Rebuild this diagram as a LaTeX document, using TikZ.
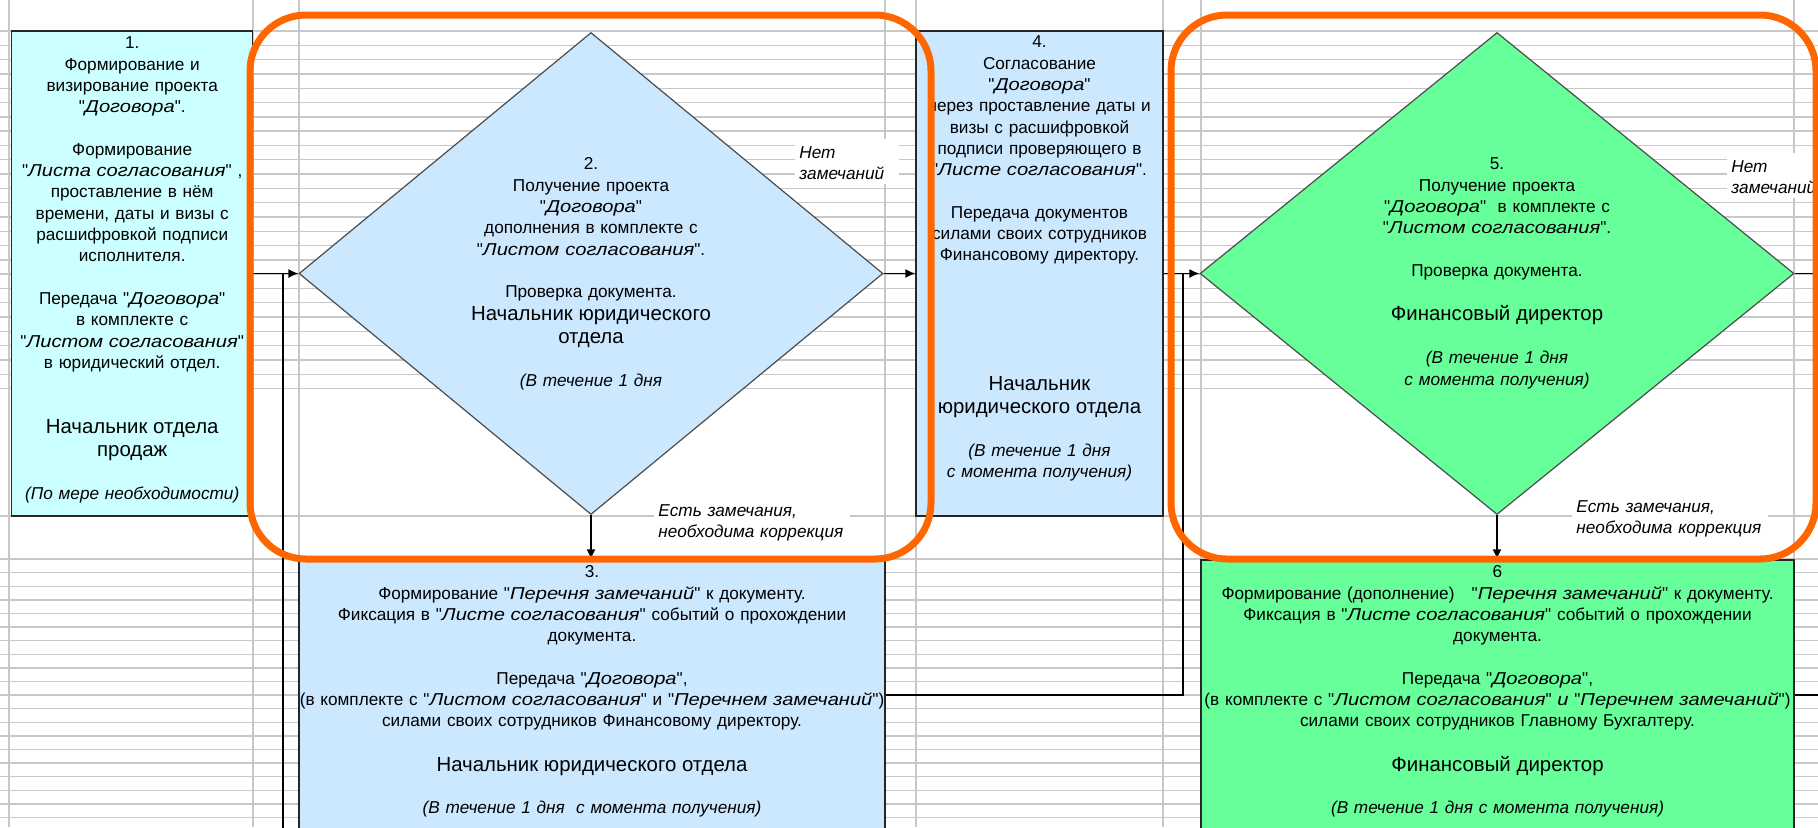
\documentclass[tikz,border=0pt]{standalone}
\usepackage{fontspec}
\setmainfont{Liberation Sans}[Ligatures=TeXOff]
\newfontfamily\stretchfam{Liberation Sans}[FakeStretch=1.17,Ligatures=TeXOff]
\usetikzlibrary{shapes.geometric,arrows.meta}
\setlength\parindent{0pt}
\definecolor{cyanbox}{HTML}{CCFFFF}
\definecolor{bluebox}{HTML}{CCE8FF}
\definecolor{greenbox}{HTML}{66FF99}
\definecolor{orng}{HTML}{FF6600}
\definecolor{gridc}{HTML}{C8C8C8}
\newcommand{\txtn}{\fontsize{8.6}{10.65}\selectfont}
\newcommand{\txtb}{\fontsize{10.2}{11.5}\selectfont}
\newcommand{\qmk}{\char34\relax}
\newcommand{\myq}[1]{\qmk{\stretchfam\itshape #1}\qmk}
\tikzset{
  procbox/.style={draw=black!85, line width=0.7pt, inner sep=0pt, rectangle},
  decbox/.style={diamond, draw=black!70, line width=0.6pt, inner sep=0pt},
  txt/.style={anchor=north, inner sep=0pt, text width=#1, font=\txtn},
  conn/.style={line width=0.7pt, black},
  arr/.style={conn, -{Latex[length=5pt,width=4.5pt]}},
  lbl/.style={fill=white, inner sep=2pt, anchor=north west, text width=#1, font=\txtn\itshape},
  frame/.style={draw=orng, line width=3.5pt, rounded corners=28pt},
  gridl/.style={draw=gridc, line width=0.7pt},
}
\begin{document}
\begin{tikzpicture}[x=0.5pt,y=-0.5pt]
\clip (0,0) rectangle (1818,827);
\fill[white] (0,0) rectangle (1818,827);
% spreadsheet grid
\foreach \k in {0,...,25}{\pgfmathsetmacro\yy{31+14.3*\k}\draw[gridl] (0,\yy) -- (1818,\yy);}
\draw[gridl] (0,516) -- (1818,516);
\foreach \k in {0,...,20}{\pgfmathsetmacro\yy{559+13.6*\k}\draw[gridl] (0,\yy) -- (1818,\yy);}
\foreach \xx in {9,253,299,885,916,1163,1201,1794}{\draw[gridl] (\xx,0) -- (\xx,827);}

% shapes
\node[procbox, fill=cyanbox, minimum width=120.5pt, minimum height=242.5pt] (b1) at (132.2,273.5) {};
\node[decbox, fill=bluebox, minimum width=292pt, minimum height=241pt] (d2) at (591,273.5) {};
\node[procbox, fill=bluebox, minimum width=123.5pt, minimum height=242.5pt] (b4) at (1039.5,273.5) {};
\node[decbox, fill=greenbox, minimum width=297pt, minimum height=241pt] (d5) at (1497,273.5) {};
\node[procbox, fill=bluebox, minimum width=293pt, minimum height=170pt] (b3) at (592,730) {};
\node[procbox, fill=greenbox, minimum width=296.5pt, minimum height=170pt] (b6) at (1497.5,730) {};

% texts
\node[txt=230pt] (t1) at (132.2,33.5) {\centering\strut 1.\\
Формирование и\\
визирование проекта\\
\myq{Договора}.\\[10.65pt]
Формирование\\
\myq{Листа согласования} ,\\
проставление в нём\\
времени, даты и визы с\\
расшифровкой подписи\\
исполнителя.\\[10.65pt]
Передача \myq{Договора}\\
в комплекте с\\
\myq{Листом согласования}\\
в юридический отдел.\\[21.3pt]
{\txtb Начальник отдела\\ продаж\\[10.65pt]}
\textit{(По мере необходимости)}\par};

\node[txt=230pt] (t2) at (591,154.5) {\centering\strut 2.\\
Получение проекта\\
\myq{Договора}\\
дополнения в комплекте с\\
\myq{Листом согласования}.\\[10.65pt]
Проверка документа.\\
{\txtb Начальник юридического\\ отдела\\[10.65pt]}
\textit{(В течение 1 дня}\par};

\node[txt=230pt] (t4) at (1039.5,32.5) {\centering\strut 4.\\
Согласование\\
\myq{Договора}\\
через проставление даты и\\
визы с расшифровкой\\
подписи проверяющего в\\
\myq{Листе согласования}.\\[10.65pt]
Передача документов\\
силами своих сотрудников\\
Финансовому директору.\\[53.25pt]
{\txtb Начальник\\ юридического отдела\\[11pt]}
\textit{(В течение 1 дня}\\
\textit{с момента получения)}\par};

\node[txt=230pt] (t5) at (1497,154.5) {\centering\strut 5.\\
Получение проекта\\
\myq{Договора}\ \ в комплекте с\\
\myq{Листом согласования}.\\[10.65pt]
Проверка документа.\\[10.65pt]
{\txtb Финансовый директор\\[11pt]}
\textit{(В течение 1 дня}\\
\textit{с момента получения)}\par};

\node[txt=330pt] (t3) at (592,562.5) {\centering\strut 3.\\
Формирование \myq{Перечня замечаний} к документу.\\
Фиксация в \myq{Листе согласования} событий о прохождении\\
документа.\\[10.65pt]
Передача \myq{Договора},\\
(в комплекте с \myq{Листом согласования} и \myq{Перечнем замечаний})\\
силами своих сотрудников Финансовому директору.\\[10.65pt]
{\txtb Начальник юридического отдела\\[10.65pt]}
\textit{(В течение 1 дня\ \ с момента получения)}\par};

\node[txt=330pt] (t6) at (1497.5,562.5) {\centering\strut 6\\
Формирование (дополнение)\ \ \ \myq{Перечня замечаний} к документу.\\
Фиксация в \myq{Листе согласования} событий о прохождении\\
документа.\\[10.65pt]
Передача \myq{Договора},\\
(в комплекте с \myq{Листом согласования} {\stretchfam\itshape и} \myq{Перечнем замечаний})\\
силами своих сотрудников Главному Бухгалтеру.\\[10.65pt]
{\txtb Финансовый директор\\[10.65pt]}
\textit{(В течение 1 дня с момента получения)}\par};

% connectors
\coordinate (j1) at (283,273.5);
\coordinate (j1b) at (283,840);
\coordinate (j2) at (1183,273.5);
\coordinate (l3) at (1183,695);
\coordinate (r6) at (1830,695);
\coordinate (r5) at (1826,273.5);
\draw[arr] (b1.east |- d2.west) -- (d2.west);
\draw[conn] (j1b) -- (j1);
\draw[arr] (d2.east) -- (b4.west |- d2.east);
\draw[arr] (d2.south) -- (d2.south |- b3.north);
\draw[arr] (b4.east |- d5.west) -- (d5.west);
\draw[conn] (b3.east |- l3) -- (l3) -- (j2);
\draw[arr] (d5.south) -- (d5.south |- b6.north);
\draw[arr] (d5.east) -- (r5);
\draw[conn] (b6.east |- r6) -- (r6);

% labels
\node[lbl=48pt] (n2) at (795,139) {\raggedright\strut Нет\\ замечаний\par};
\node[lbl=48pt] (n5) at (1727,153) {\raggedright\strut Нет\\ замечаний\par};
\node[lbl=94pt] (e2) at (654,497) {\raggedright\strut Есть замечания,\\ необходима коррекция\par};
\node[lbl=94pt] (e5) at (1572,493) {\raggedright\strut Есть замечания,\\ необходима коррекция\par};

% highlight frames
\draw[frame] (250,15) rectangle (931,559);
\draw[frame] (1171,15) rectangle (1816,559);
\end{tikzpicture}
\end{document}
